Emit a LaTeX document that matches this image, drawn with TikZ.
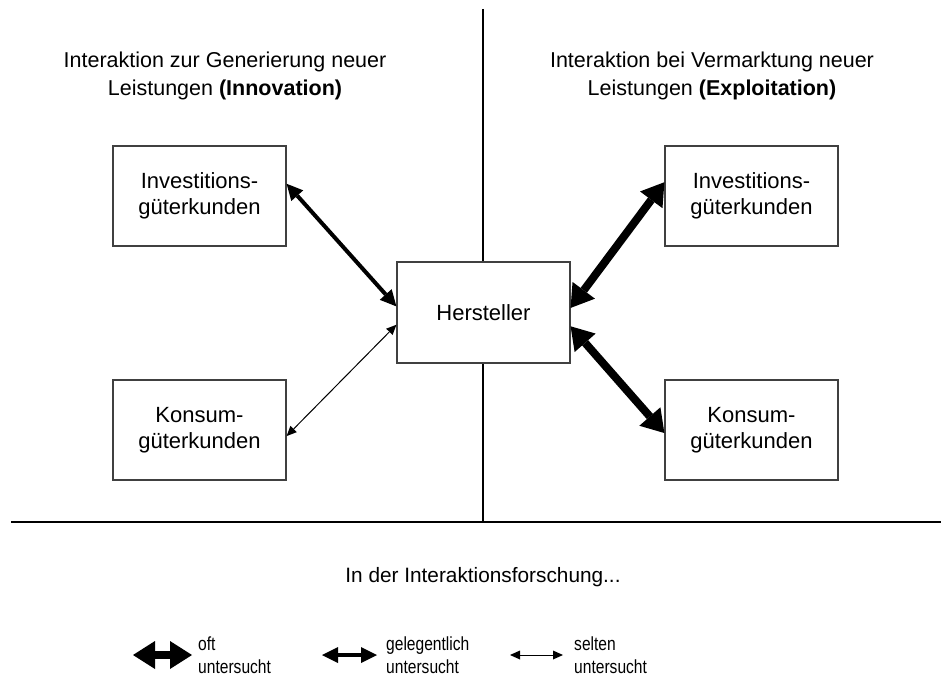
\documentclass[tikz,border=0pt]{standalone}
\usepackage{fontspec}
\setmainfont{Liberation Sans}
\newfontfamily\schmal[FakeStretch=0.82]{Liberation Sans}
\usetikzlibrary{arrows.meta}
\tikzset{
  kasten/.style={draw=black!75, fill=white, line width=1.2pt, minimum width=173pt,
    minimum height=100pt, inner sep=0pt, align=center, font=\fontsize{22}{26}\selectfont},
  titel/.style={align=center, font=\fontsize{21.5}{28}\selectfont},
  legende/.style={anchor=west, align=left, inner sep=0pt, font=\schmal\fontsize{19}{23}\selectfont},
  trenn/.style={line width=1.3pt},
  oft/.style={line width=8pt, {Triangle[length=22pt,width=28pt,line width=0pt]}-{Triangle[length=22pt,width=28pt,line width=0pt]}},
  gelegentlich/.style={line width=4pt, {Triangle[length=16pt,width=16pt,line width=0pt]}-{Triangle[length=16pt,width=16pt,line width=0pt]}},
  selten/.style={line width=1pt, {Triangle[length=10pt,width=9pt,line width=0pt]}-{Triangle[length=10pt,width=9pt,line width=0pt]}}
}
\begin{document}
\begin{tikzpicture}[x=1pt, y=-1pt]
\useasboundingbox (0,0) rectangle (941,676);
% Trennlinien
\coordinate (oben) at (483,9);
\coordinate (unten) at (483,522);
\coordinate (links) at (11,522);
\coordinate (rechts) at (941,522);
\draw[trenn] (oben) -- (unten);
\draw[trenn] (links) -- (rechts);

\node[titel] (tinno) at (225,76) {Interaktion zur Generierung neuer\\Leistungen \textbf{(Innovation)}};
\node[titel] (texpl) at (712,76) {Interaktion bei Vermarktung neuer\\Leistungen \textbf{(Exploitation)}};

\node[kasten] (ilinks) at (199.5,196) {Investitions-\\güterkunden};
\node[kasten] (klinks) at (199.5,430) {Konsum-\\güterkunden};
\node[kasten, minimum height=101pt] (hst) at (483.5,312.5) {Hersteller};
\node[kasten] (irechts) at (751.5,196) {Investitions-\\güterkunden};
\node[kasten] (krechts) at (751.5,430) {Konsum-\\güterkunden};

\draw[gelegentlich] (ilinks.8.5) -- (hst.176.4);
\draw[selten] (klinks.356.7) -- (hst.188.2);
\draw[oft] (irechts.171.45) -- (hst.3.6);
\draw[oft] (krechts.182) -- (hst.351.8);

% Legende
\node[font=\fontsize{20.8}{24}\selectfont] (frage) at (483,577) {In der Interaktionsforschung...};
\coordinate (oa) at (133,655);
\coordinate (ob) at (192,655);
\coordinate (ga) at (322,655);
\coordinate (gb) at (377,655);
\coordinate (sa) at (510,655);
\coordinate (sb) at (563,655);
\draw[oft] (oa) -- (ob);
\draw[gelegentlich] (ga) -- (gb);
\draw[selten] (sa) -- (sb);
\node[legende] (toft) at (198,655) {oft\\untersucht};
\node[legende] (tgel) at (386,655) {gelegentlich\\untersucht};
\node[legende] (tsel) at (574,655) {selten\\untersucht};

\end{tikzpicture}
\end{document}
